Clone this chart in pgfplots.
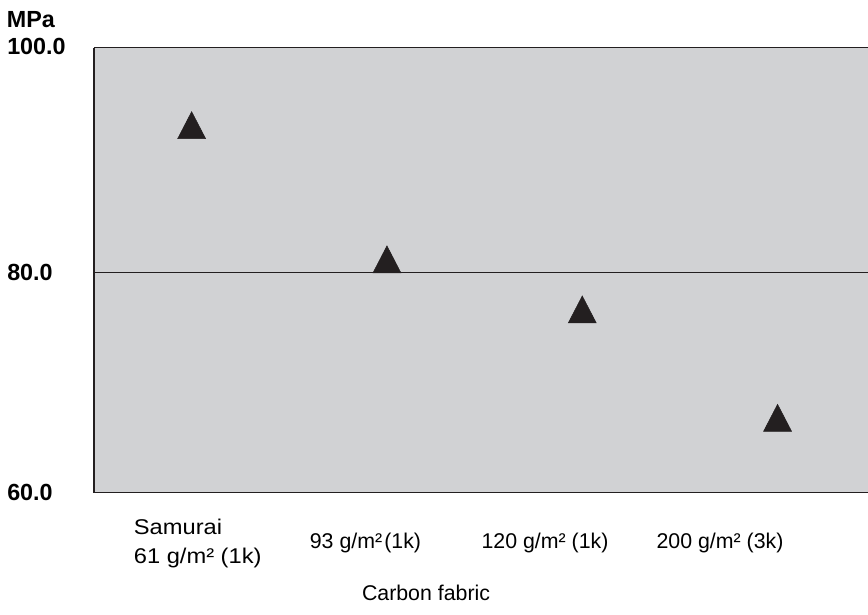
\documentclass[border=0pt]{standalone}
\usepackage{fontspec}
\setmainfont{Liberation Sans}
\usepackage{pgfplots}
\pgfplotsset{compat=1.18}
\definecolor{bggray}{RGB}{209,210,212}
\definecolor{ink}{RGB}{35,31,32}

\begin{document}
\begin{tikzpicture}
\begin{axis}[
  scale only axis,
  width=580.5pt, height=333.75pt,
  xmin=-0.5, xmax=3.463,
  ymin=60, ymax=100.45,
  axis x line*=bottom, axis y line*=left,
  axis line style={ink, line width=1pt},
  axis background/.style={fill=bggray},
  major tick length=0pt,
  ytick={60,80}, yticklabels={60.0,80.0},
  ymajorgrids, major grid style={ink, line width=1pt},
  yticklabel style={anchor=west, inner sep=0pt, xshift=-65.25pt,
    font=\bfseries\fontsize{17.5}{21}\selectfont},
  xtick={-0.297,0.604,1.483,2.379},
  xticklabels={{\scalebox{1.11}[1]{Samurai}\\\scalebox{1.11}[1]{61 g/m² (1k)}},
    {93 g/m²\hspace{0.1em}(1k)}, {120 g/m² (1k)}, {200 g/m² (3k)}},
  xticklabel style={anchor=west, inner sep=0pt, yshift=-37.7pt, align=left,
    font=\fontsize{16}{21.75}\selectfont},
  xlabel={Carbon fabric},
  every axis x label/.style={at={(rel axis cs:0.429,0)}, anchor=base,
    yshift=-80.5pt, font=\fontsize{16}{19}\selectfont},
  clip=false,
]
% triangles: values read at the marker centroid
\addplot[only marks, mark=triangle*, mark size=12.1pt,
  mark options={fill=ink, draw=ink, yscale=1.115}]
  coordinates {(0,93.0) (1,80.8) (2,76.25) (3,66.4)};

\draw[ink, line width=1pt] (rel axis cs:0,1) -- (rel axis cs:1,1);
\node[anchor=base west, inner sep=0pt, xshift=-65.5pt, yshift=15.5pt,
  font=\bfseries\fontsize{17.5}{21}\selectfont] at (rel axis cs:0,1) {MPa};
\node[anchor=west, inner sep=0pt, xshift=-65.25pt, yshift=0.9pt,
  font=\bfseries\fontsize{17.5}{21}\selectfont] at (rel axis cs:0,1) {100.0};
\coordinate (tl) at (rel axis cs:0,1);
\coordinate (br) at (rel axis cs:1,0);
\end{axis}
\pgfresetboundingbox
\path ([xshift=-70.5pt,yshift=35.8pt]tl) rectangle ([yshift=-91pt]br);
\end{tikzpicture}
\end{document}
